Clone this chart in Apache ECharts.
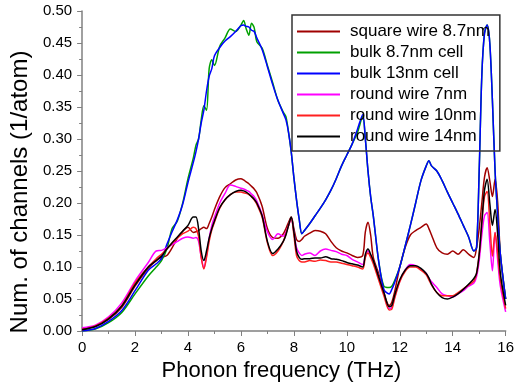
<!DOCTYPE html>
<html>
<head>
<meta charset="utf-8">
<script src="https://cdn.jsdelivr.net/npm/echarts@6/dist/echarts.min.js"></script>
<style>
html, body { margin: 0; padding: 0; background: #fff; }
#chart { width: 517px; height: 387px; }
</style>
</head>
<body>
<div id="chart"></div>
<script>
// phonon frequency grid (THz)
let freq = [0, 0.5, 1, 1.5, 2, 2.5, 2.8, 3.0, 3.2, 3.4, 3.6, 3.8, 4.0, 4.2, 4.3, 4.4, 4.5, 4.6, 4.7, 4.8, 4.9,
    5.0, 5.2, 5.4, 5.6, 5.8, 6.0, 6.1, 6.2, 6.3, 6.4, 6.5, 6.6, 6.8, 7.0, 7.2, 7.4, 7.6, 7.7, 7.8, 7.9,
    8.0, 8.1, 8.2, 8.3, 8.4, 8.6, 8.8, 9.0, 9.2, 9.4, 9.6, 9.8, 10.0, 10.2, 10.4, 10.6, 10.7, 10.8, 10.9,
    11.0, 11.2, 11.4, 11.6, 11.7, 11.8, 12.0, 12.2, 12.4, 12.6, 12.8, 13.0, 13.1, 13.2, 13.4, 13.6, 13.8,
    14.0, 14.2, 14.4, 14.6, 14.8, 14.9, 15.0, 15.1, 15.2, 15.3, 15.4, 15.5, 15.6, 15.7, 15.8, 16.0]

let squareWire87 = [0.003, 0.007, 0.018, 0.037, 0.070, 0.098, 0.110, 0.115, 0.118, 0.130, 0.145, 0.156, 0.162, 0.154, 0.155, 0.157, 0.160, 0.162, 0.160, 0.168, 0.178,
    0.190, 0.210, 0.224, 0.230, 0.236, 0.238, 0.236, 0.233, 0.230, 0.226, 0.222, 0.216, 0.195, 0.160, 0.146, 0.145, 0.152, 0.160, 0.170, 0.178,
    0.160, 0.143, 0.140, 0.143, 0.148, 0.153, 0.157, 0.156, 0.152, 0.140, 0.130, 0.125, 0.122, 0.118, 0.115, 0.118, 0.155, 0.170, 0.150,
    0.115, 0.090, 0.060, 0.040, 0.045, 0.060, 0.100, 0.130, 0.150, 0.157, 0.162, 0.167, 0.160, 0.150, 0.130, 0.122, 0.120,
    0.125, 0.120, 0.127, 0.120, 0.115, 0.130, 0.160, 0.200, 0.240, 0.255, 0.235, 0.210, 0.237, 0.200, 0.120, 0.050]

let bulk87 = [0, 0.003, 0.013, 0.029, 0.058, 0.086, 0.100, 0.110, 0.128, 0.160, 0.172, 0.200, 0.238, 0.270, 0.290, 0.300, 0.330, 0.352, 0.345, 0.410, 0.424,
    0.415, 0.445, 0.458, 0.472, 0.468, 0.478, 0.485, 0.472, 0.462, 0.481, 0.474, 0.452, 0.442, 0.415, 0.388, 0.360, 0.342, 0.335, 0.310, 0.280,
    0.240, 0.205, 0.175, 0.152, 0.157, 0.168, 0.180, 0.192, 0.205, 0.220, 0.238, 0.258, 0.275, 0.292, 0.310, 0.335, 0.300, 0.250, 0.210,
    0.180, 0.110, 0.070, 0.068, 0.070, 0.078, 0.100, 0.132, 0.165, 0.200, 0.235, 0.258, 0.266, 0.258, 0.250, 0.235, 0.217,
    0.200, 0.183, 0.165, 0.147, 0.125, 0.130, 0.250, 0.400, 0.465, 0.478, 0.450, 0.360, 0.250, 0.180, 0.120, 0.050]

let bulk13 = [0, 0.004, 0.015, 0.032, 0.063, 0.095, 0.105, 0.113, 0.135, 0.155, 0.174, 0.198, 0.232, 0.263, 0.280, 0.300, 0.325, 0.345, 0.375, 0.398, 0.410,
    0.430, 0.443, 0.453, 0.460, 0.468, 0.477, 0.478, 0.476, 0.475, 0.470, 0.468, 0.458, 0.440, 0.413, 0.385, 0.360, 0.340, 0.330, 0.310, 0.280,
    0.240, 0.205, 0.175, 0.152, 0.157, 0.168, 0.180, 0.192, 0.205, 0.220, 0.238, 0.258, 0.275, 0.292, 0.315, 0.338, 0.300, 0.250, 0.210,
    0.180, 0.110, 0.065, 0.058, 0.065, 0.075, 0.100, 0.132, 0.165, 0.200, 0.235, 0.258, 0.266, 0.258, 0.250, 0.235, 0.217,
    0.200, 0.183, 0.165, 0.147, 0.125, 0.130, 0.250, 0.400, 0.465, 0.478, 0.450, 0.360, 0.250, 0.180, 0.120, 0.050]

let roundWire7 = [0.005, 0.009, 0.022, 0.044, 0.078, 0.107, 0.125, 0.126, 0.130, 0.135, 0.140, 0.145, 0.147, 0.145, 0.146, 0.140, 0.115, 0.098, 0.118, 0.145, 0.165,
    0.178, 0.200, 0.215, 0.228, 0.226, 0.223, 0.222, 0.220, 0.218, 0.214, 0.210, 0.203, 0.182, 0.155, 0.143, 0.152, 0.148, 0.155, 0.165, 0.176,
    0.155, 0.130, 0.122, 0.118, 0.120, 0.122, 0.118, 0.125, 0.128, 0.126, 0.124, 0.120, 0.118, 0.112, 0.108, 0.104, 0.118, 0.125, 0.118,
    0.108, 0.085, 0.058, 0.035, 0.037, 0.052, 0.078, 0.095, 0.104, 0.102, 0.096, 0.090, 0.082, 0.077, 0.068, 0.058, 0.055,
    0.053, 0.058, 0.063, 0.070, 0.075, 0.085, 0.110, 0.150, 0.180, 0.185, 0.140, 0.094, 0.154, 0.110, 0.070, 0.030]

let roundWire10 = [0.002, 0.008, 0.020, 0.040, 0.075, 0.100, 0.113, 0.120, 0.128, 0.137, 0.145, 0.152, 0.156, 0.162, 0.160, 0.148, 0.115, 0.097, 0.115, 0.140, 0.158,
    0.170, 0.192, 0.205, 0.213, 0.217, 0.217, 0.216, 0.215, 0.213, 0.210, 0.205, 0.198, 0.178, 0.138, 0.118, 0.125, 0.140, 0.152, 0.165, 0.177,
    0.150, 0.118, 0.110, 0.108, 0.108, 0.110, 0.109, 0.111, 0.110, 0.108, 0.108, 0.106, 0.104, 0.102, 0.100, 0.097, 0.115, 0.122, 0.115,
    0.105, 0.080, 0.055, 0.033, 0.034, 0.050, 0.077, 0.093, 0.100, 0.100, 0.095, 0.088, 0.080, 0.072, 0.060, 0.055, 0.055,
    0.055, 0.060, 0.066, 0.072, 0.078, 0.090, 0.120, 0.170, 0.210, 0.218, 0.170, 0.117, 0.154, 0.120, 0.080, 0.035]

let roundWire14 = [0.002, 0.007, 0.019, 0.039, 0.072, 0.100, 0.110, 0.117, 0.128, 0.138, 0.147, 0.156, 0.165, 0.178, 0.178, 0.160, 0.125, 0.110, 0.125, 0.145, 0.160,
    0.172, 0.193, 0.205, 0.213, 0.218, 0.220, 0.219, 0.217, 0.214, 0.210, 0.206, 0.200, 0.180, 0.140, 0.121, 0.128, 0.140, 0.150, 0.165, 0.178,
    0.155, 0.125, 0.115, 0.112, 0.113, 0.113, 0.114, 0.114, 0.116, 0.113, 0.112, 0.110, 0.107, 0.105, 0.103, 0.100, 0.120, 0.128, 0.120,
    0.110, 0.085, 0.060, 0.038, 0.040, 0.055, 0.080, 0.095, 0.102, 0.102, 0.098, 0.090, 0.083, 0.073, 0.060, 0.052, 0.050,
    0.053, 0.058, 0.065, 0.073, 0.082, 0.090, 0.120, 0.170, 0.220, 0.237, 0.200, 0.165, 0.190, 0.150, 0.090, 0.040]

let seriesNames = ['square wire 8.7nm', 'bulk 8.7nm cell', 'bulk 13nm cell', 'round wire 7nm', 'round wire 10nm', 'round wire 14nm']
let seriesValues = [squareWire87, bulk87, bulk13, roundWire7, roundWire10, roundWire14]
let seriesColors = ['#a00000', '#00a000', '#0000ff', '#ff00ff', '#ff2020', '#000000']

let font = 'Liberation Sans, Arial, sans-serif'

let chart = echarts.init(document.getElementById('chart'))

let series = seriesValues.map((vals, i) => {
    return {
        name: seriesNames[i],
        type: 'line',
        data: freq.map((f, k) => [f, vals[k]]),
        showSymbol: false,
        smooth: 0.3,
        lineStyle: { width: 1.5, color: seriesColors[i] },
        itemStyle: { color: seriesColors[i] }
    }
})

let option = {
    animation: false,
    backgroundColor: '#fff',
    grid: { left: 81, right: 10, top: 11, bottom: 55 },
    legend: {
        orient: 'vertical',
        left: 292,
        top: 15,
        padding: [8, 10, 6, 5],
        itemGap: 4,
        itemWidth: 43,
        itemHeight: 2,
        icon: 'rect',
        borderColor: '#333',
        borderWidth: 1.5,
        textStyle: { fontFamily: font, fontSize: 17, color: '#000', padding: [0, 0, 0, 5] },
        data: seriesNames
    },
    xAxis: {
        type: 'value',
        min: 0,
        max: 16,
        interval: 2,
        name: 'Phonon frequency (THz)',
        nameLocation: 'middle',
        nameGap: 29,
        nameTextStyle: { fontFamily: font, fontSize: 22, color: '#000', padding: [0, 25, 0, 0] },
        axisLine: { lineStyle: { color: '#808080', width: 1.5 } },
        axisTick: { inside: false, length: 5, lineStyle: { color: '#808080' } },
        minorTick: { show: true, splitNumber: 2, length: 3, lineStyle: { color: '#808080' } },
        axisLabel: { fontFamily: font, fontSize: 15, color: '#000', margin: 9 },
        splitLine: { show: false }
    },
    yAxis: {
        type: 'value',
        min: 0,
        max: 0.5,
        interval: 0.05,
        name: 'Num. of channels (1/atom)',
        nameLocation: 'middle',
        nameGap: 37,
        nameTextStyle: { fontFamily: font, fontSize: 24, color: '#000', padding: [0, 42, 0, 0] },
        axisLine: { show: true, lineStyle: { color: '#808080', width: 1.5 } },
        axisTick: { show: true, inside: false, length: 5, lineStyle: { color: '#808080' } },
        minorTick: { show: true, splitNumber: 2, length: 3, lineStyle: { color: '#808080' } },
        axisLabel: { fontFamily: font, fontSize: 15, color: '#000', margin: 10, formatter: v => v.toFixed(2) },
        splitLine: { show: false }
    },
    series: series
}

chart.setOption(option)
</script>
</body>
</html>
